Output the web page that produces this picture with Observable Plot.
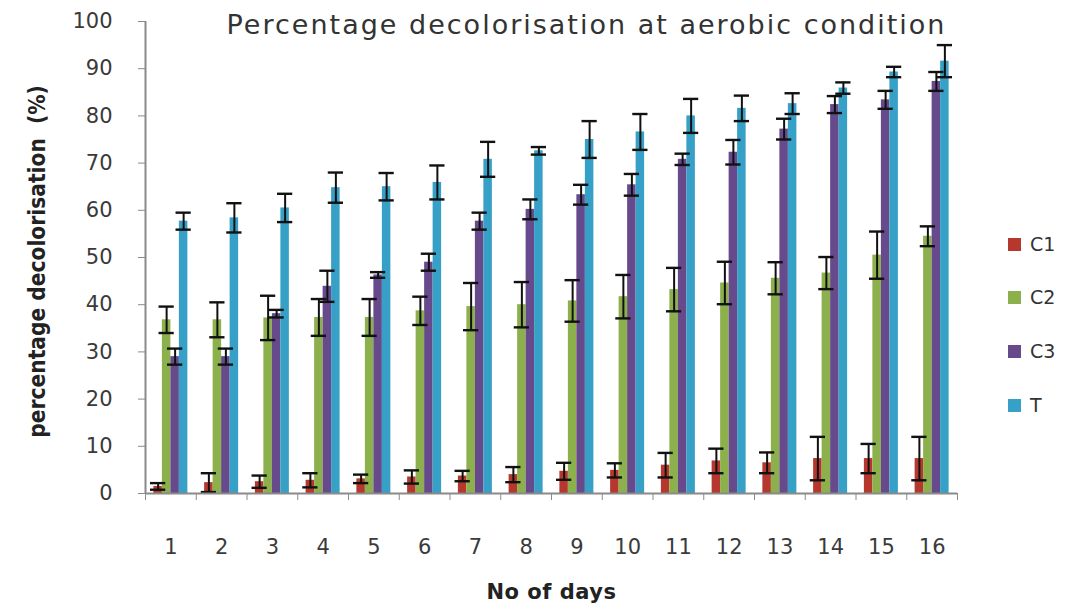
<!DOCTYPE html>
<html>
<head>
<meta charset="utf-8">
<script src="https://cdn.jsdelivr.net/npm/d3@7"></script>
<script src="https://cdn.jsdelivr.net/npm/@observablehq/plot@0.6"></script>
<style>
  html, body { margin: 0; padding: 0; background: #fff; }
  #wrap { position: relative; width: 1078px; height: 607px; }
  #legend { position: absolute; left: 1008px; top: 0; font-family: "DejaVu Sans", sans-serif; font-size: 19px; color: #333; }
  .item { position: absolute; left: 0; display: flex; align-items: center; white-space: nowrap; transform: translateY(-50%); }
  .sw { width: 13px; height: 13px; margin-right: 9px; }
</style>
</head>
<body>
<div id="wrap"><div id="legend"></div></div>
<script>
const days = d3.range(1, 17);
const seriesNames = ["C1", "C2", "C3", "T"];
const colors = ["#B5372E", "#8CB04C", "#664A8C", "#36A0C6"];

const C1    = [1.5, 2.3, 2.5, 2.8, 3.1, 3.5, 3.7, 4.0, 4.7, 4.9, 6.0, 6.9, 6.5, 7.4, 7.4, 7.4];
const C1err = [0.7, 2.0, 1.3, 1.5, 0.9, 1.4, 1.1, 1.6, 1.8, 1.5, 2.6, 2.6, 2.2, 4.6, 3.1, 4.6];
const C2    = [36.8, 36.8, 37.2, 37.3, 37.3, 38.7, 39.6, 40.0, 40.8, 41.7, 43.2, 44.6, 45.6, 46.7, 50.5, 54.5];
const C2err = [2.8, 3.7, 4.7, 3.9, 3.9, 3.0, 5.0, 4.8, 4.4, 4.6, 4.6, 4.5, 3.4, 3.4, 5.0, 2.1];
const C3    = [29.0, 29.0, 38.1, 43.9, 46.3, 49.0, 57.7, 60.2, 63.3, 65.4, 70.8, 72.3, 77.2, 82.4, 83.4, 87.3];
const C3err = [1.7, 1.7, 0.8, 3.3, 0.6, 1.8, 1.8, 2.1, 2.1, 2.3, 1.2, 2.6, 2.2, 1.8, 1.9, 2.0];
const T     = [57.7, 58.4, 60.5, 64.8, 65.0, 65.9, 70.8, 72.6, 75.0, 76.6, 80.0, 81.6, 82.6, 85.9, 89.3, 91.6];
const Terr  = [1.8, 3.1, 3.0, 3.2, 2.9, 3.6, 3.7, 0.8, 3.9, 3.8, 3.6, 2.7, 2.2, 1.2, 1.1, 3.4];
const yTicks = d3.range(0, 101, 10);

const titleText = "Percentage decolorisation at aerobic condition";
const xLabel = "No of days";
const yLabel = "percentage decolorisation  (%)";

const values = [C1, C2, C3, T];
const errors = [C1err, C2err, C3err, Terr];

// layout settings (in day units)
const groupWidth = 0.67;
const barW = groupWidth / 4;
const capHalf = 0.15;

const table = [];
seriesNames.forEach((s, si) => {
  days.forEach((d, di) => {
    const x1 = d - groupWidth / 2 + si * barW;
    table.push({day: d, series: s, value: values[si][di], err: errors[si][di],
      x1, x2: x1 + barW, xc: x1 + barW / 2});
  });
});

const font = "DejaVu Sans, sans-serif";
const boldFont = "DejaVu Sans Condensed, DejaVu Sans, sans-serif";

const plot = Plot.plot({
  width: 1078,
  height: 607,
  marginLeft: 145,
  marginRight: 121,
  marginTop: 21,
  marginBottom: 114,
  style: {fontFamily: font, background: "transparent"},
  x: {domain: [0.5, 16.5], axis: null},
  y: {domain: [0, 100], axis: null},
  color: {domain: seriesNames, range: colors},
  marks: [
    Plot.rectY(table, {x1: "x1", x2: "x2", y1: 0, y2: "value", fill: "series"}),
    Plot.ruleX(table, {x: "xc", y1: d => d.value - d.err, y2: d => d.value + d.err, stroke: "#111", strokeWidth: 2}),
    Plot.ruleY(table, {y: d => d.value + d.err, x1: d => d.xc - capHalf, x2: d => d.xc + capHalf, stroke: "#111", strokeWidth: 2.4}),
    Plot.ruleY(table, {y: d => d.value - d.err, x1: d => d.xc - capHalf, x2: d => d.xc + capHalf, stroke: "#111", strokeWidth: 2.4}),
    Plot.ruleX([0.5], {stroke: "#8a8a8a", strokeWidth: 2}),
    Plot.ruleY([0], {stroke: "#8a8a8a", strokeWidth: 2}),
    Plot.axisY({ticks: yTicks, tickSize: 7, tickPadding: 26, fontSize: 21, stroke: "#8a8a8a", fill: "#3a3a3a", label: null, tickFormat: d3.format("d")}),
    Plot.axisX({ticks: d3.range(0.5, 17, 1), tickSize: 7, tickFormat: () => "", stroke: "#8a8a8a", label: null}),
    Plot.axisX({ticks: days, tickSize: 0, tickPadding: 46, fontSize: 21, fill: "#3a3a3a", label: null, tickFormat: d3.format("d")}),
    Plot.text([titleText], {frameAnchor: "top", lineAnchor: "middle", dx: 35, dy: 4, fontSize: 27, fill: "#333", fontFamily: font}),
    Plot.text([xLabel], {frameAnchor: "bottom", lineAnchor: "middle", dy: 99, fontSize: 21, fontWeight: "bold", fill: "#222", fontFamily: font}),
    Plot.text([yLabel], {frameAnchor: "left", textAnchor: "middle", lineAnchor: "middle", dx: -108, dy: 4, rotate: -90, fontSize: 22.5, fontWeight: "bold", fill: "#222", fontFamily: boldFont})
  ]
});

d3.select(plot).selectAll("text")
  .filter(function() { return this.textContent === titleText; })
  .style("letter-spacing", "2px");
d3.select(plot).selectAll("text")
  .filter(function() { return this.textContent === xLabel; })
  .style("letter-spacing", "0.5px");

document.getElementById("wrap").prepend(plot);

const legendTops = [244, 297, 351, 405];
const legend = document.getElementById("legend");
seriesNames.forEach((s, i) => {
  const item = document.createElement("div");
  item.className = "item";
  item.style.top = legendTops[i] + "px";
  const sw = document.createElement("span");
  sw.className = "sw";
  sw.style.background = colors[i];
  const lab = document.createElement("span");
  lab.textContent = s;
  item.append(sw, lab);
  legend.append(item);
});
</script>
</body>
</html>
